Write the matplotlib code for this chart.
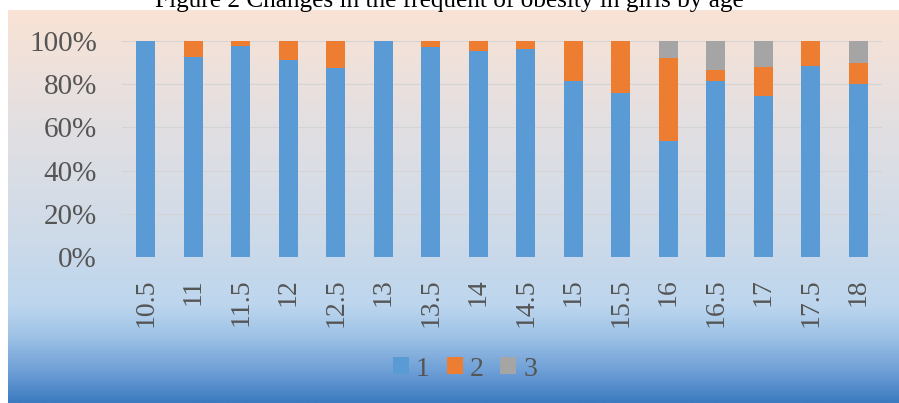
import numpy as np
import matplotlib.pyplot as plt
from matplotlib.colors import LinearSegmentedColormap

ages = ['10.5', '11', '11.5', '12', '12.5', '13', '13.5', '14', '14.5',
        '15', '15.5', '16', '16.5', '17', '17.5', '18']
s1 = [100, 92.3, 97.7, 91.1, 87.5, 100, 97.0, 95.4, 96.3,
      81.5, 76.0, 53.7, 81.5, 74.6, 88.5, 80.0]
s2 = [0, 7.7, 2.3, 8.9, 12.5, 0, 3.0, 4.6, 3.7,
      18.5, 24.0, 38.3, 5.1, 13.1, 11.5, 9.7]
s3 = [0, 0, 0, 0, 0, 0, 0, 0, 0, 0, 0, 8.0, 13.4, 12.3, 0, 10.3]
names = ['1', '2', '3']
colors = ['#5b9bd5', '#ed7d31', '#a5a5a5']

W, H = 899, 403
fig = plt.figure(figsize=(W / 100, H / 100), dpi=100)
fig.patch.set_facecolor('white')

# background gradient of the chart box
bg = fig.add_axes([8 / W, 0, 1 - 8 / W, 1 - 10 / H], zorder=0)
grad = LinearSegmentedColormap.from_list('bg', [
    (0.0, '#f9e3d5'),
    (0.30, '#e2dfe2'),
    (0.55, '#d0dbe8'),
    (0.75, '#bdd6ee'),
    (0.83, '#9fc3e6'),
    (0.92, '#6e9fd6'),
    (1.0, '#3c7bc0'),
])
bg.imshow(np.linspace(0, 1, 256)[:, None], aspect='auto', cmap=grad,
          extent=[0, 1, 0, 1])
bg.axis('off')

ax = fig.add_axes([122 / W, 1 - 257.3 / H, 760 / W, 216.6 / H], zorder=1)
ax.patch.set_alpha(0)
x = np.arange(len(ages))
bottom = np.zeros(len(ages))
for vals, c, n in zip([s1, s2, s3], colors, names):
    ax.bar(x, vals, 0.4, bottom=bottom, color=c, label=n, zorder=2)
    bottom += np.array(vals)

ax.set_xlim(-0.5, len(ages) - 0.5)
ax.set_ylim(0, 100)
ax.set_yticks(np.arange(0, 101, 20))
ax.set_yticklabels([f'{v}%' for v in range(0, 101, 20)])
ax.set_xticks(x)
ax.set_xticklabels(ages, rotation=90)
for sp in ax.spines.values():
    sp.set_visible(False)
ax.grid(axis='y', color='#d4d4d4', linewidth=0.8, zorder=0)
ax.tick_params(length=0, labelsize=20, labelcolor='#555555')
ax.tick_params(axis='y', pad=18, labelsize=21)
ax.tick_params(axis='x', pad=15)
for t in ax.get_xticklabels() + ax.get_yticklabels():
    t.set_family('Liberation Serif')
for t in ax.get_xticklabels():
    t.set_va('top')

leg = fig.legend(loc='center', bbox_to_anchor=(465 / W, 1 - 369 / H), ncol=3,
                 frameon=False, handlelength=0.58, handleheight=0.58,
                 handletextpad=0.25, columnspacing=0.6,
                 prop={'family': 'Liberation Serif', 'size': 20})
for t in leg.get_texts():
    t.set_color('#555555')

fig.text(0.5, 1 - 7.5 / H, 'Figure 2 Changes in the frequent of obesity in girls by age',
         ha='center', va='baseline', fontsize=18.2, family='Liberation Serif',
         color='black')

fig.savefig('out.png', dpi=100)
